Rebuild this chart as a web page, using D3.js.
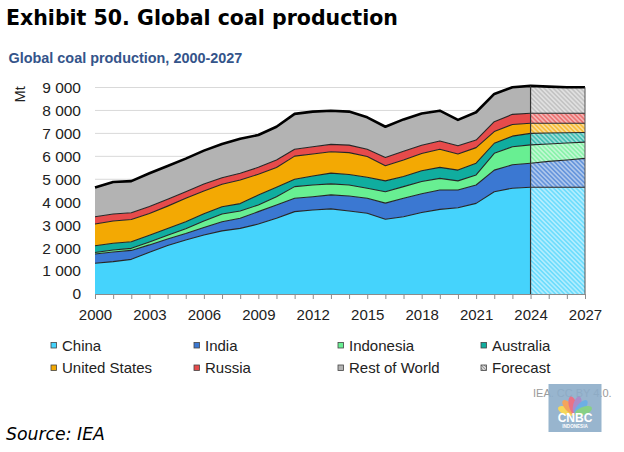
<!DOCTYPE html>
<html><head><meta charset="utf-8">
<script src="https://cdn.jsdelivr.net/npm/d3@7"></script>
<style>body{margin:0;background:#fff;} svg{display:block;}</style>
</head><body><svg id="c" width="624" height="452"></svg>
<script>
// ---------- DATA ----------
const years = [2000,2001,2002,2003,2004,2005,2006,2007,2008,2009,2010,2011,2012,2013,2014,2015,2016,2017,2018,2019,2020,2021,2022,2023,2024,2025,2026,2027];
const xTickLabels = [2000,2003,2006,2009,2012,2015,2018,2021,2024,2027];
const yTickValues = [0,1000,2000,3000,4000,5000,6000,7000,8000,9000];
const seriesNames = ["China","India","Indonesia","Australia","United States","Russia","Rest of World"];
const china        = [1340,1410,1510,1820,2110,2350,2570,2750,2860,3050,3300,3590,3660,3710,3620,3520,3260,3370,3550,3690,3760,3950,4460,4610,4650,4650,4650,4650];
const india        = [400,420,390,320,290,290,330,400,440,540,580,580,580,610,650,650,700,800,820,840,770,800,940,1020,1050,1130,1190,1260];
const indonesia    = [70,90,90,130,160,200,280,340,320,290,360,510,510,480,480,440,500,510,530,510,400,440,730,790,800,760,740,710];
const australia    = [290,290,290,290,290,310,320,310,320,430,410,320,390,470,460,480,470,440,470,480,470,510,440,460,500,480,450,420];
const unitedStates = [950,970,970,950,980,1020,990,980,1030,910,860,1010,960,930,950,900,660,720,750,790,700,680,510,510,440,420,410,400];
const russia       = [320,310,290,300,300,290,300,290,290,300,330,300,320,320,330,320,360,380,360,360,360,330,430,440,440,440,440,440];
const restOfWorld  = [1270,1390,1380,1450,1450,1440,1460,1470,1510,1410,1450,1540,1530,1470,1460,1390,1340,1390,1390,1320,1130,1210,1210,1180,1190,1160,1130,1130];
const forecastStart = 2024;
const legendLabels = ["China","India","Indonesia","Australia","United States","Russia","Rest of World","Forecast"];

// ---------- STYLE ----------
const colors = ["#45d3fc","#3b78d2","#68ef92","#10ad9f","#f3a903","#e64b4b","#b3b3b3"];
const svg = d3.select("#c");
const FONT = "'Liberation Sans', Arial, sans-serif";

const seriesArrays = [china, india, indonesia, australia, unitedStates, russia, restOfWorld];
const table = years.map((yr, i) => {
  const row = {year: yr};
  seriesNames.forEach((n, k) => row[n] = seriesArrays[k][i]);
  return row;
});
const stacked = d3.stack().keys(seriesNames)(table);

const x = d3.scaleLinear().domain([2000, 2027]).range([95, 585]);
const y = d3.scaleLinear().domain([0, 9000]).range([294, 87.5]);

// patterns
const defs = svg.append("defs");
colors.forEach((c, i) => {
  const p = defs.append("pattern").attr("id", "hatch" + i).attr("patternUnits", "userSpaceOnUse")
    .attr("width", 3.2).attr("height", 3.2).attr("patternTransform", "rotate(-45)");
  p.append("rect").attr("width", 3.2).attr("height", 3.2).attr("fill", c).attr("opacity", 0.78);
  p.append("line").attr("x1", 0.8).attr("y1", 0).attr("x2", 0.8).attr("y2", 3.2)
    .attr("stroke", "#fff").attr("stroke-width", 1).attr("opacity", 0.75);
});
const pg = defs.append("pattern").attr("id", "hatchLegend").attr("patternUnits", "userSpaceOnUse")
  .attr("width", 2.2).attr("height", 2.2).attr("patternTransform", "rotate(-45)");
pg.append("rect").attr("width", 2.2).attr("height", 2.2).attr("fill", "#fff");
pg.append("line").attr("x1", 0.6).attr("y1", 0).attr("x2", 0.6).attr("y2", 2.2).attr("stroke", "#666").attr("stroke-width", 0.9);

// title
const title = svg.append("text").attr("x", 6).attr("y", 25)
  .attr("font-family", "'DejaVu Sans', Verdana, sans-serif").attr("font-weight", "bold")
  .attr("font-size", 21.5).attr("fill", "#000").text("Exhibit 50. Global coal production");
const tw = title.node().getComputedTextLength();
title.attr("font-size", 21.5 * 392 / tw);

const sub = svg.append("text").attr("x", 8.5).attr("y", 63)
  .attr("font-family", FONT).attr("font-weight", "bold").attr("font-size", 13.5)
  .attr("fill", "#34548a").text("Global coal production, 2000-2027");
const sw = sub.node().getComputedTextLength();
sub.attr("font-size", 13.5 * 234 / sw);

// gridlines
svg.append("g").selectAll("line").data(yTickValues.filter(v => v > 0)).join("line")
  .attr("x1", x(2000)).attr("x2", x(2027)).attr("y1", d => y(d)).attr("y2", d => y(d))
  .attr("stroke", "#d9d9d9").attr("stroke-width", 1);

// y labels
svg.append("g").selectAll("text").data(yTickValues).join("text")
  .attr("x", 81).attr("y", d => y(d)).attr("dy", "0.35em").attr("text-anchor", "end")
  .attr("font-family", FONT).attr("font-size", 15.5).attr("fill", "#222")
  .text(d => d3.format(",")(d).replace(",", " "));

svg.append("text").attr("transform", `translate(25,${y(8700)}) rotate(-90)`)
  .attr("text-anchor", "middle").attr("font-family", FONT).attr("font-size", 14.5).attr("fill", "#222").text("Mt");

// areas
const fi = years.indexOf(forecastStart);
const area = d3.area().x(d => x(d.data.year)).y0(d => y(d[0])).y1(d => y(d[1]));
const gA = svg.append("g");
stacked.forEach((s, i) => {
  gA.append("path").datum(s.slice(0, fi + 1)).attr("d", area).attr("fill", colors[i]);
  gA.append("path").datum(s.slice(fi)).attr("d", area).attr("fill", "#fff");
  gA.append("path").datum(s.slice(fi)).attr("d", area).attr("fill", `url(#hatch${i})`);
});
// boundary lines
const line = d3.line().x(d => x(d.data.year)).y(d => y(d[1]));
stacked.forEach((s, i) => {
  const last = i === stacked.length - 1;
  gA.append("path").datum(s).attr("d", line).attr("fill", "none")
    .attr("stroke", last ? "#000" : "#262626").attr("stroke-width", last ? 2.6 : 1.1)
    .attr("stroke-linejoin", "round");
});
const topSeries = stacked[stacked.length - 1];
gA.append("line").attr("x1", x(forecastStart)).attr("x2", x(forecastStart))
  .attr("y1", y(0)).attr("y2", y(topSeries[fi][1])).attr("stroke", "#333").attr("stroke-width", 1.2);
gA.append("line").attr("x1", x(2027)).attr("x2", x(2027))
  .attr("y1", y(0)).attr("y2", y(topSeries[years.length - 1][1])).attr("stroke", "#555").attr("stroke-width", 1);

// x axis
const xAxis = d3.axisBottom(x).tickValues(years).tickSize(5)
  .tickFormat(d => xTickLabels.includes(d) ? String(d) : "");
const gx = svg.append("g").attr("transform", `translate(0,${y(0)})`).call(xAxis);
gx.select(".domain").attr("stroke", "#8c8c8c");
gx.selectAll(".tick line").attr("stroke", "#8c8c8c");
gx.selectAll(".tick text").attr("y", 15).attr("font-family", FONT).attr("font-size", 15).attr("fill", "#222");

// legend
const legX = [51, 194, 338, 481];
const legY = [345.5, 368];
legendLabels.forEach((lab, i) => {
  const cx = legX[i % 4], cy = legY[Math.floor(i / 4)];
  const g = svg.append("g");
  g.append("rect").attr("x", cx).attr("y", cy - 3).attr("width", 5.5).attr("height", 5.5)
    .attr("fill", i < 7 ? colors[i] : "url(#hatchLegend)").attr("stroke", "#444").attr("stroke-width", 0.8);
  g.append("text").attr("x", cx + 11).attr("y", cy).attr("dy", "0.35em")
    .attr("font-family", FONT).attr("font-size", 15).attr("fill", "#222").text(lab);
});

// credit
svg.append("text").attr("x", 533).attr("y", 397).attr("font-family", FONT).attr("font-size", 11)
  .attr("fill", "#9a9a9a").text("IEA. CC BY 4.0.");

// watermark logo
const wm = svg.append("g").attr("opacity", 0.9);
wm.append("rect").attr("x", 548.5).attr("y", 384).attr("width", 53).attr("height", 48).attr("fill", "#8dadc9");
const fc = ["#f6d44a","#f39b4b","#e7637a","#a481c4","#5ea7e2","#7ccb7a"];
fc.forEach((c, k) => {
  const ang = -160 + k * 28;
  wm.append("ellipse").attr("cx", 0).attr("cy", -9).attr("rx", 4).attr("ry", 9)
    .attr("fill", c).attr("transform", `translate(575,414) rotate(${ang + 90})`);
});
wm.append("text").attr("x", 575).attr("y", 422).attr("text-anchor", "middle")
  .attr("font-family", FONT).attr("font-weight", "bold").attr("font-size", 12).attr("fill", "#fff").text("CNBC");
wm.append("text").attr("x", 575).attr("y", 428).attr("text-anchor", "middle")
  .attr("font-family", FONT).attr("font-weight", "bold").attr("font-size", 4.6).attr("fill", "#fff").text("INDONESIA");

// source
const src = svg.append("text").attr("x", 6).attr("y", 440)
  .attr("font-family", "'DejaVu Sans', Verdana, sans-serif").attr("font-style", "italic")
  .attr("font-size", 16).attr("fill", "#000").text("Source: IEA");
const srw = src.node().getComputedTextLength();
src.attr("font-size", 16 * 99 / srw);
</script></body></html>
